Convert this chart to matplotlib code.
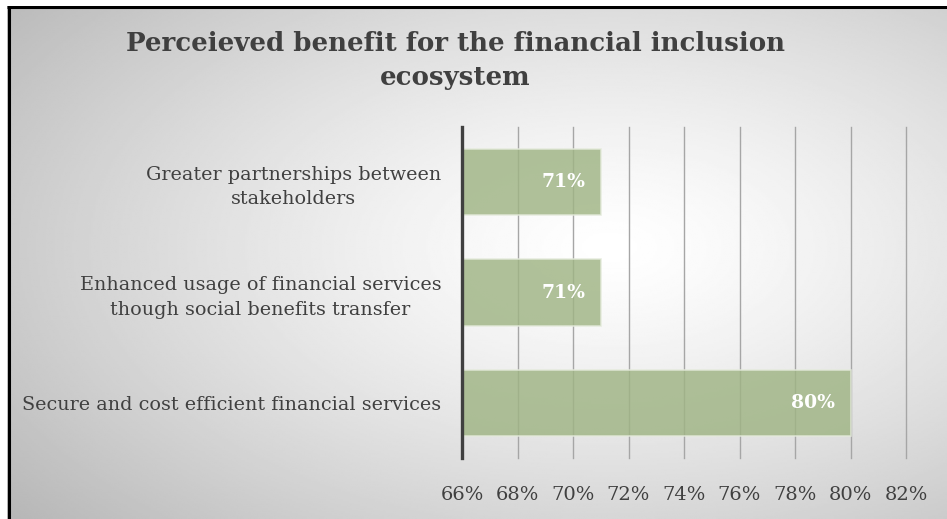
import numpy as np
import matplotlib.pyplot as plt
from matplotlib.ticker import FuncFormatter

# data (bottom to top, as drawn)
categories = [
    "Secure and cost efficient financial services",
    "Enhanced usage of financial services\nthough social benefits transfer",
    "Greater partnerships between\nstakeholders",
]
values = [80, 71, 71]
x_ticks = [66, 68, 70, 72, 74, 76, 78, 80, 82]
title = "Perceieved benefit for the financial inclusion\necosystem"

SERIF = ["DejaVu Serif", "Liberation Serif"]
W, H = 947, 519

fig = plt.figure(figsize=(W / 100, H / 100), dpi=100)
fig.patch.set_facecolor("white")

# radial grey gradient behind the chart, framed on the left and top
bg = fig.add_axes([7 / W, 0, 1 - 7 / W, 1 - 6 / H], zorder=0)
yy, xx = np.mgrid[0:1:300j, 0:1:500j]
r = np.sqrt(((xx - 0.64) / 0.75) ** 2 + ((yy - 0.47) / 0.75) ** 2)
shade = 1.0 - 0.25 * np.clip(r, 0, 1.2) ** 1.3
bg.imshow(shade, cmap="gray", vmin=0, vmax=1, aspect="auto",
          extent=[0, 1, 0, 1], origin="upper", interpolation="bilinear")
bg.set_xlim(0, 1)
bg.set_ylim(0, 1)
bg.axis("off")
bg.plot([0.002, 0.002], [0, 1], color="black", lw=2.2, solid_capstyle="butt")
bg.plot([0, 1], [0.998, 0.998], color="black", lw=2.2, solid_capstyle="butt")

ax = fig.add_axes([462 / W, 1 - 458 / H, (906 - 462) / W, (458 - 127) / H], zorder=1)
ax.patch.set_alpha(0)

y = np.arange(len(categories))
bars = ax.barh(y, [v - 66 for v in values], left=66, height=0.6,
               color="#9fb484", alpha=0.82, edgecolor="#e4eadb", linewidth=1.2, zorder=3)

for b, v in zip(bars, values):
    ax.text(v - 0.55, b.get_y() + b.get_height() / 2, f"{v}%", ha="right", va="center",
            color="white", fontsize=13.5, fontweight="bold", family=SERIF, zorder=4)

ax.set_xlim(66, 82)
ax.set_ylim(-0.5, len(categories) - 0.5)
ax.set_xticks(x_ticks)
ax.xaxis.set_major_formatter(FuncFormatter(lambda v, _: f"{v:.0f}%"))
ax.set_yticks(y)
ax.set_yticklabels(categories, multialignment="center", linespacing=1.45)
ax.tick_params(axis="x", length=0, pad=20, labelsize=14, labelcolor="#404040")
ax.tick_params(axis="y", length=0, pad=15, labelsize=13.8, labelcolor="#404040")
for lab in ax.get_xticklabels() + ax.get_yticklabels():
    lab.set_family(SERIF)

ax.grid(axis="x", color="#a6a6a6", linewidth=1.0, zorder=1)
for gl in ax.get_xgridlines():
    gl.set_clip_on(False)
ax.set_axisbelow(True)
for side in ["top", "right", "bottom"]:
    ax.spines[side].set_visible(False)
ax.spines["left"].set_color("#404040")
ax.spines["left"].set_linewidth(2.4)
ax.spines["left"].set_zorder(5)

fig.text(455 / W, 1 - 31 / H, title, ha="center", va="top", fontsize=18.7,
         fontweight="bold", color="#404040", family=SERIF, linespacing=1.45)

fig.savefig("out.png", dpi=100)
